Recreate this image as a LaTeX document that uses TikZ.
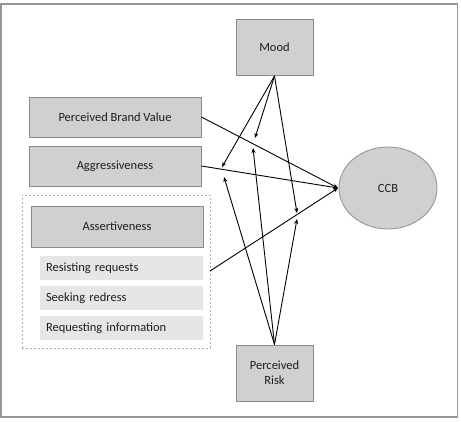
\documentclass[tikz,border=0pt]{standalone}
\usepackage{fontspec}
\setmainfont{Carlito}
\usepackage{xcolor}
\usetikzlibrary{arrows.meta,shapes.geometric}
\definecolor{boxgray}{RGB}{208,208,208}
\definecolor{boxline}{RGB}{138,138,138}
\definecolor{itemgray}{RGB}{230,230,230}
\definecolor{dashline}{RGB}{172,176,196}
\definecolor{framegray}{RGB}{150,150,150}
\definecolor{inkgray}{RGB}{30,30,30}
\tikzset{
  varbox/.style={draw=boxline,fill=boxgray,line width=0.9pt,inner sep=0pt,
    align=center,text=inkgray,font=\fontsize{12.5}{15}\selectfont},
  itembox/.style={fill=itemgray,inner ysep=0pt,inner xsep=6pt,text width=151pt,
    align=left,text=inkgray,font=\fontsize{12.5}{15}\selectfont},
  linkarrow/.style={line width=0.9pt,-{Stealth[length=5pt,width=4pt]}}
}

\begin{document}
\begin{tikzpicture}[x=1pt,y=-1pt]
    \useasboundingbox (0,0) rectangle (461,422);
    \draw[framegray,line width=1.5pt] (0.75,4) rectangle (457.5,417);

    % variables
    \node[varbox,minimum width=77,minimum height=56] (mood) at (274.5,47.5) {Mood};
    \node[varbox,minimum width=172,minimum height=40] (pbv) at (115,117) {Perceived Brand Value};
    \node[varbox,minimum width=172,minimum height=40] (aggr) at (115,166) {Aggressiveness};
    \node[varbox,ellipse,draw=framegray,minimum width=98,minimum height=82] (ccb) at (388,188) {CCB};
    \node[varbox,minimum width=77,minimum height=56] (risk) at (274.5,373) {Perceived\\Risk};

    % assertiveness group
    \node[draw=dashline,dash pattern=on 2pt off 2pt,line width=0.9pt,minimum width=188,minimum height=153] (grp) at (116,271.5) {};
    \node[varbox,minimum width=172,minimum height=41] (assert) at (117,226.5) {Assertiveness};
    \node[itembox,minimum height=24] (resist) at (121.5,268) {Resisting requests};
    \node[itembox,minimum height=24] (redress) at (121.5,298) {Seeking redress};
    \node[itembox,minimum height=24] (inform) at (121.5,328) {Requesting information};

    % direct effects
    \coordinate (gout) at (210,271);
    \coordinate (cin) at (338,188);
    \draw[linkarrow] (pbv.east) -- (cin);
    \draw[linkarrow] (aggr.east) -- (cin);
    \draw[linkarrow] (gout) -- (cin);

    % moderation
    \coordinate (m1) at (222,167);
    \coordinate (m2) at (255,138);
    \coordinate (m3) at (297,213);
    \coordinate (r1) at (224,177);
    \coordinate (r2) at (253,148);
    \coordinate (r3) at (297,219);
    \foreach \t in {m1,m2,m3}
        \draw[linkarrow] (mood.south) -- (\t);
    \foreach \t in {r1,r2,r3}
        \draw[linkarrow] (risk.north) -- (\t);
\end{tikzpicture}
\end{document}
